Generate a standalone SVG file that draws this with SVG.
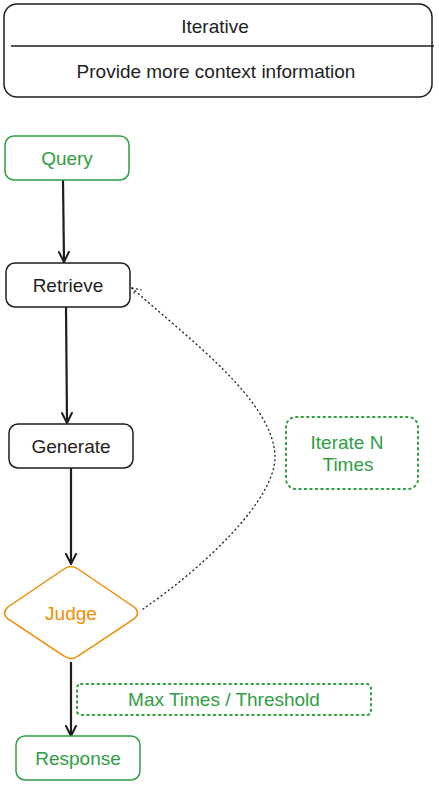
<svg xmlns="http://www.w3.org/2000/svg" width="439" height="785" viewBox="0 0 439 785">
<style>
text{font-family:"Liberation Sans","DejaVu Sans",sans-serif;font-size:19px;text-anchor:middle;dominant-baseline:central}
.blk{fill:#1e1e1e}
.grn{fill:#2f9e44}
.org{fill:#f08c00}
.box{fill:#fff;stroke:#1e1e1e;stroke-width:1.5}
.gbox{fill:#fff;stroke:#2f9e44;stroke-width:1.5}
.dbox{fill:none;stroke:#2f9e44;stroke-width:2;stroke-dasharray:1.5 4;stroke-linecap:round}
.edge{stroke:#1e1e1e;stroke-width:2.2;fill:none}
.dot{stroke:#1e1e1e;stroke-width:1.3;fill:none;stroke-dasharray:1 3.5;stroke-linecap:round}
</style>
<defs>
<marker id="arr" viewBox="0 0 12 12" refX="11" refY="6" markerWidth="12" markerHeight="12" markerUnits="userSpaceOnUse" orient="auto">
<path d="M1,1 L11,6 L1,11" fill="none" stroke="#1e1e1e" stroke-width="2" stroke-linecap="round"/>
</marker>
</defs>
<rect width="439" height="785" fill="#fff"/>
<g id="header">
<rect x="4" y="4" width="428" height="93" rx="13" class="box"/>
<line x1="11" y1="46" x2="434" y2="46" stroke="#1e1e1e" stroke-width="1.5"/>
<text x="215" y="26" class="blk">Iterative</text>
<text x="216" y="71" class="blk">Provide more context information</text>
</g>
<g id="connectors">
<line x1="63" y1="180" x2="64" y2="262" class="edge" marker-end="url(#arr)"/>
<line x1="66" y1="307" x2="67" y2="423" class="edge" marker-end="url(#arr)"/>
<line x1="71" y1="468" x2="71" y2="564" class="edge" marker-end="url(#arr)"/>
<line x1="71" y1="662" x2="71" y2="736" class="edge" marker-end="url(#arr)"/>
<path d="M143,609 C200,570 277,500 275,455 C272,400 190,340 132,288" class="dot"/>
<path d="M132,288 L141,290 M132,288 L136,296" class="dot"/>
</g>
<g id="query">
<rect x="5" y="136" width="124" height="44" rx="9" class="gbox"/>
<text x="67" y="158" class="grn">Query</text>
</g>
<g id="retrieve">
<rect x="6" y="263" width="124" height="44" rx="9" class="box"/>
<text x="68" y="285" class="blk">Retrieve</text>
</g>
<g id="generate">
<rect x="9" y="424" width="124" height="44" rx="9" class="box"/>
<text x="71" y="446" class="blk">Generate</text>
</g>
<g id="judge">
<path d="M64,569 Q71,564 78,569 L134,607 Q141,613 134,619 L78,656 Q71,661 64,656 L8,619 Q1,613 8,607 Z" fill="#fff" stroke="#f08c00" stroke-width="1.5"/>
<text x="71" y="613" class="org">Judge</text>
</g>
<g id="iterate-note">
<rect x="286" y="417" width="132" height="72" rx="10" class="dbox"/>
<text x="347" y="442" class="grn">Iterate N</text>
<text x="348" y="464" class="grn">Times</text>
</g>
<g id="threshold-note">
<rect x="77" y="684" width="294" height="31" rx="4" class="dbox"/>
<text x="224" y="699" class="grn">Max Times / Threshold</text>
</g>
<g id="response">
<rect x="16" y="736" width="124" height="44" rx="9" class="gbox"/>
<text x="78" y="758" class="grn">Response</text>
</g>
</svg>
